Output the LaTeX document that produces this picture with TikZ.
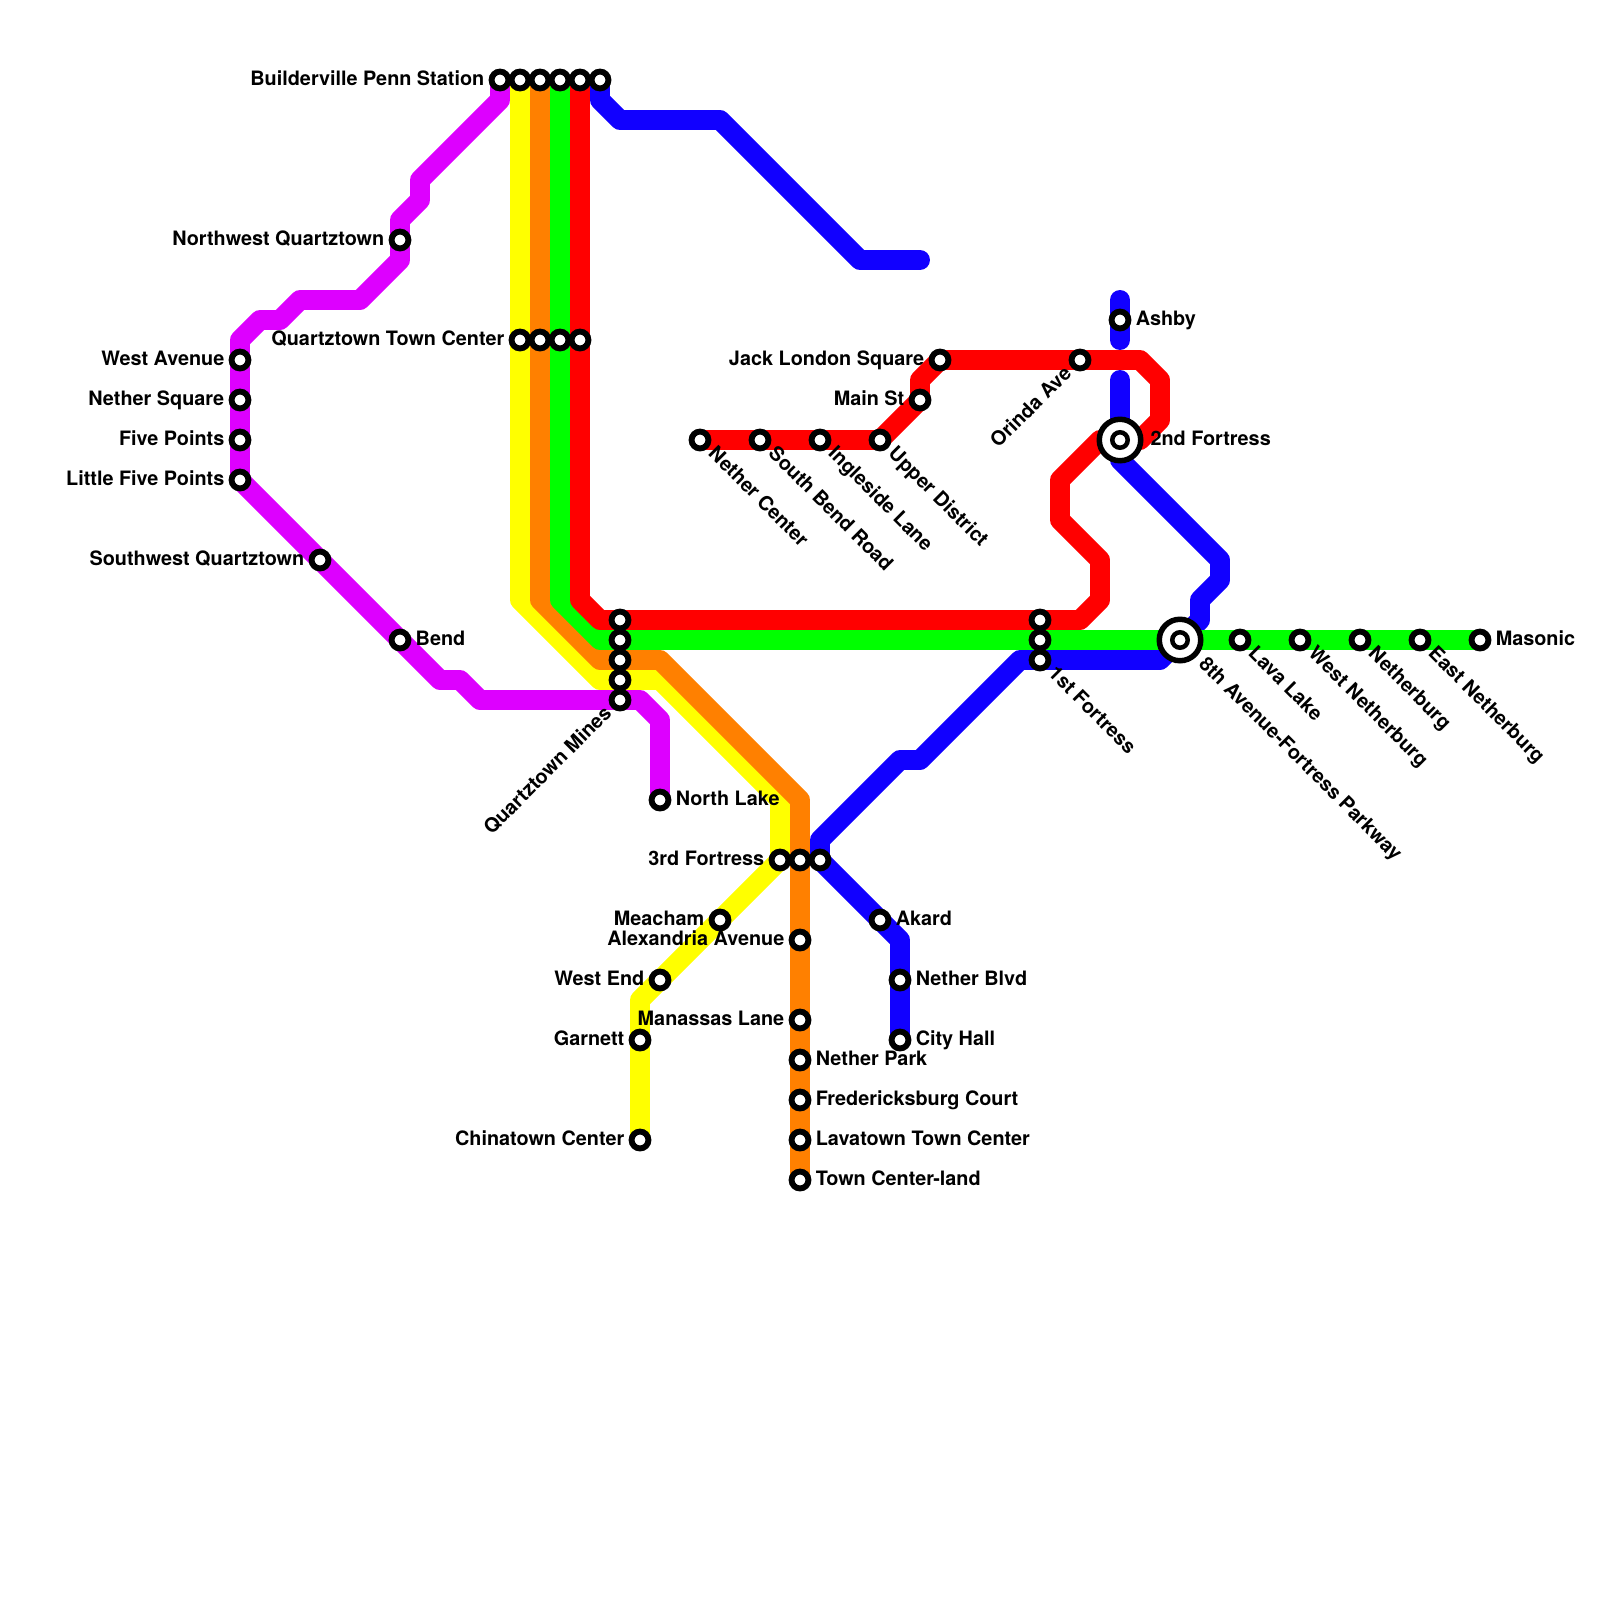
\documentclass[tikz,border=0pt]{standalone}
\usepackage{fontspec}
\setmainfont{TeX Gyre Heros}
\usetikzlibrary{backgrounds}
\definecolor{lnblue}{RGB}{17,0,255}
\definecolor{lnred}{RGB}{255,0,0}
\definecolor{lngreen}{RGB}{0,255,0}
\definecolor{lnorange}{RGB}{255,128,0}
\definecolor{lnyellow}{RGB}{255,255,0}
\definecolor{lnpurple}{RGB}{221,0,255}
\tikzset{
  line/.style={line width=14.2pt,line cap=round,line join=round},
  stn/.style={circle,draw=black,fill=white,line width=4.2pt,minimum size=12pt,inner sep=0pt},
  hub/.style={circle,draw=black,fill=white,line width=3.9pt,minimum size=29.5pt,inner sep=0pt},
  hubin/.style={circle,draw=black,fill=white,line width=3.2pt,minimum size=11pt,inner sep=0pt},
  txt/.style={font=\fontsize{14.1pt}{16pt}\bfseries,inner sep=0pt,text=black},
  lr/.style={txt,anchor=base west,xshift=11pt,yshift=-3.7pt},
  ll/.style={txt,anchor=base east,xshift=-11pt,yshift=-3.7pt},
  ld/.style={txt,rotate=-45,anchor=base west,xshift=11pt,yshift=-3.7pt},
  lu/.style={txt,rotate=45,anchor=base east,xshift=-11pt,yshift=-3.7pt},
  hubr/.style={lr,xshift=10.5pt},
  hubd/.style={ld,xshift=10.5pt}
}
\begin{document}
\begin{tikzpicture}[x=0.5cm,y=-0.5cm]
\useasboundingbox (0,0) rectangle (80,80);

% top row
\node[stn] (penn) at (25,4) {};
\node[ll] (tpenn) at (penn) {Builderville Penn Station};
\node[stn] (penny) at (26,4) {};
\node[stn] (penno) at (27,4) {};
\node[stn] (penng) at (28,4) {};
\node[stn] (pennr) at (29,4) {};
\node[stn] (pennb) at (30,4) {};

% purple stations
\node[stn] (nwq) at (20,12) {};
\node[ll] (tnwq) at (nwq) {Northwest Quartztown};
\node[stn] (westave) at (12,18) {};
\node[ll] (twestave) at (westave) {West Avenue};
\node[stn] (nethersq) at (12,20) {};
\node[ll] (tnethersq) at (nethersq) {Nether Square};
\node[stn] (fivepts) at (12,22) {};
\node[ll] (tfivepts) at (fivepts) {Five Points};
\node[stn] (littlefive) at (12,24) {};
\node[ll] (tlittlefive) at (littlefive) {Little Five Points};
\node[stn] (swq) at (16,28) {};
\node[ll] (tswq) at (swq) {Southwest Quartztown};
\node[stn] (bend) at (20,32) {};
\node[lr] (tbend) at (bend) {Bend};
\node[stn] (northlake) at (33,40) {};
\node[lr] (tnorthlake) at (northlake) {North Lake};

% town center row
\node[stn] (qtcy) at (26,17) {};
\node[ll] (tqtcy) at (qtcy) {Quartztown Town Center};
\node[stn] (qtco) at (27,17) {};
\node[stn] (qtcg) at (28,17) {};
\node[stn] (qtcr) at (29,17) {};

% mines column
\node[stn] (minesr) at (31,31) {};
\node[stn] (minesg) at (31,32) {};
\node[stn] (mineso) at (31,33) {};
\node[stn] (minesy) at (31,34) {};
\node[stn] (minesp) at (31,35) {};
\node[lu] (tminesp) at (minesp) {Quartztown Mines};

% red stations
\node[stn] (nethercen) at (35,22) {};
\node[ld] (tnethercen) at (nethercen) {Nether Center};
\node[stn] (southbend) at (38,22) {};
\node[ld] (tsouthbend) at (southbend) {South Bend Road};
\node[stn] (ingleside) at (41,22) {};
\node[ld] (tingleside) at (ingleside) {Ingleside Lane};
\node[stn] (upperd) at (44,22) {};
\node[ld] (tupperd) at (upperd) {Upper District};
\node[stn] (mainst) at (46,20) {};
\node[ll] (tmainst) at (mainst) {Main St};
\node[stn] (jacklondon) at (47,18) {};
\node[ll] (tjacklondon) at (jacklondon) {Jack London Square};
\node[stn] (orinda) at (54,18) {};
\node[lu] (torinda) at (orinda) {Orinda Ave};

% blue stations
\node[stn] (ashby) at (56,16) {};
\node[lr] (tashby) at (ashby) {Ashby};
\node[hub] (fort2) at (56,22) {};
\node[hubin] (fort2in) at (fort2) {};
\node[hubr] (tfort2) at (fort2) {2nd Fortress};
\node[stn] (akard) at (44,46) {};
\node[lr] (takard) at (akard) {Akard};
\node[stn] (netherblvd) at (45,49) {};
\node[lr] (tnetherblvd) at (netherblvd) {Nether Blvd};
\node[stn] (cityhall) at (45,52) {};
\node[lr] (tcityhall) at (cityhall) {City Hall};

% 1st fortress column
\node[stn] (fort1r) at (52,31) {};
\node[stn] (fort1g) at (52,32) {};
\node[stn] (fort1b) at (52,33) {};
\node[ld] (tfort1b) at (fort1b) {1st Fortress};

% green stations
\node[hub] (eighth) at (59,32) {};
\node[hubin] (eighthin) at (eighth) {};
\node[hubd] (teighth) at (eighth) {8th Avenue-Fortress Parkway};
\node[stn] (lavalake) at (62,32) {};
\node[ld] (tlavalake) at (lavalake) {Lava Lake};
\node[stn] (westneth) at (65,32) {};
\node[ld] (twestneth) at (westneth) {West Netherburg};
\node[stn] (netherburg) at (68,32) {};
\node[ld] (tnetherburg) at (netherburg) {Netherburg};
\node[stn] (eastneth) at (71,32) {};
\node[ld] (teastneth) at (eastneth) {East Netherburg};
\node[stn] (masonic) at (74,32) {};
\node[lr] (tmasonic) at (masonic) {Masonic};

% 3rd fortress row
\node[stn] (fort3y) at (39,43) {};
\node[ll] (tfort3y) at (fort3y) {3rd Fortress};
\node[stn] (fort3o) at (40,43) {};
\node[stn] (fort3b) at (41,43) {};

% yellow stations
\node[stn] (meacham) at (36,46) {};
\node[ll] (tmeacham) at (meacham) {Meacham};
\node[stn] (westend) at (33,49) {};
\node[ll] (twestend) at (westend) {West End};
\node[stn] (garnett) at (32,52) {};
\node[ll] (tgarnett) at (garnett) {Garnett};
\node[stn] (chinatown) at (32,57) {};
\node[ll] (tchinatown) at (chinatown) {Chinatown Center};

% orange stations
\node[stn] (alexandria) at (40,47) {};
\node[ll] (talexandria) at (alexandria) {Alexandria Avenue};
\node[stn] (manassas) at (40,51) {};
\node[ll] (tmanassas) at (manassas) {Manassas Lane};
\node[stn] (netherpark) at (40,53) {};
\node[lr] (tnetherpark) at (netherpark) {Nether Park};
\node[stn] (fredericks) at (40,55) {};
\node[lr] (tfredericks) at (fredericks) {Fredericksburg Court};
\node[stn] (lavatown) at (40,57) {};
\node[lr] (tlavatown) at (lavatown) {Lavatown Town Center};
\node[stn] (tcland) at (40,59) {};
\node[lr] (ttcland) at (tcland) {Town Center-land};

\begin{pgfonlayer}{background}
\draw[line,lnblue] (pennb.center) -- (30,5) -- (31,6) -- (36,6) -- (43,13) -- (46,13);
\draw[line,lnblue] (ashby.center) -- (56,15);
\draw[line,lnblue] (ashby.center) -- (56,17);
\draw[line,lnblue] (56,19) -- (fort2.center) -- (56,23) -- (61,28) -- (61,29) -- (60,30) -- (60,31) -- (eighth.center) -- (58,33) -- (fort1b.center) -- (51,33) -- (46,38) -- (45,38) -- (41,42) -- (fort3b.center) -- (akard.center) -- (45,47) -- (netherblvd.center) -- (cityhall.center);
\draw[line,lnpurple] (penn.center) -- (25,5) -- (21,9) -- (21,10) -- (20,11) -- (nwq.center) -- (20,13) -- (18,15) -- (15,15) -- (14,16) -- (13,16) -- (12,17) -- (westave.center) -- (nethersq.center) -- (fivepts.center) -- (littlefive.center) -- (swq.center) -- (bend.center) -- (22,34) -- (23,34) -- (24,35) -- (minesp.center) -- (32,35) -- (33,36) -- (northlake.center);
\draw[line,lnyellow] (penny.center) -- (qtcy.center) -- (26,30) -- (30,34) -- (minesy.center) -- (33,34) -- (39,40) -- (fort3y.center) -- (meacham.center) -- (westend.center) -- (32,50) -- (garnett.center) -- (chinatown.center);
\draw[line,lnorange] (penno.center) -- (qtco.center) -- (27,30) -- (30,33) -- (mineso.center) -- (33,33) -- (40,40) -- (fort3o.center) -- (alexandria.center) -- (manassas.center) -- (netherpark.center) -- (fredericks.center) -- (lavatown.center) -- (tcland.center);
\draw[line,lngreen] (penng.center) -- (qtcg.center) -- (28,30) -- (30,32) -- (minesg.center) -- (fort1g.center) -- (eighth.center) -- (lavalake.center) -- (westneth.center) -- (netherburg.center) -- (eastneth.center) -- (masonic.center);
\draw[line,lnred] (pennr.center) -- (qtcr.center) -- (29,30) -- (30,31) -- (minesr.center) -- (fort1r.center) -- (54,31) -- (55,30) -- (55,28) -- (53,26) -- (53,24) -- (55,22) -- (fort2.center) -- (57,22) -- (58,21) -- (58,19) -- (57,18) -- (orinda.center) -- (jacklondon.center) -- (46,19) -- (mainst.center) -- (upperd.center) -- (ingleside.center) -- (southbend.center) -- (nethercen.center);
\end{pgfonlayer}
\end{tikzpicture}
\end{document}
